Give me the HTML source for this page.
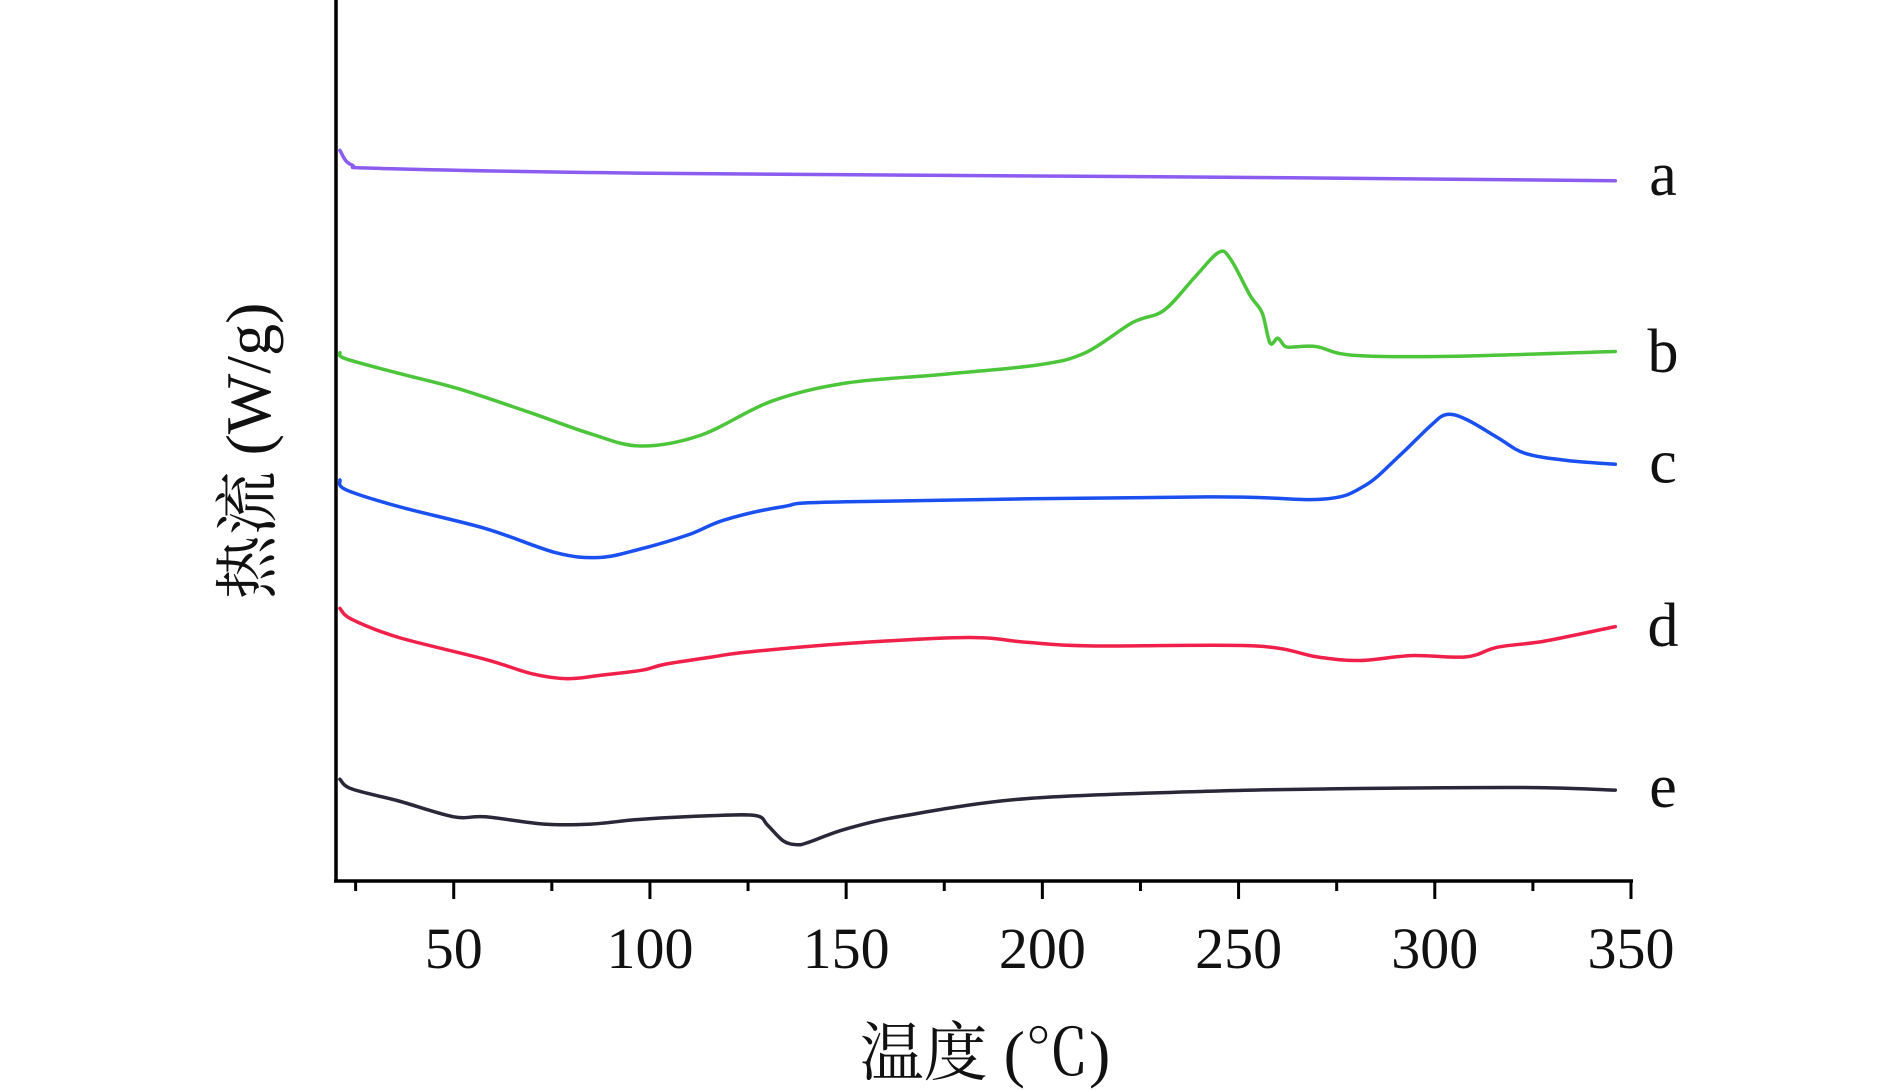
<!DOCTYPE html>
<html><head><meta charset="utf-8"><style>
html,body{margin:0;padding:0;background:#fff;}
svg{display:block;}
text{font-family:"Liberation Serif","Noto Serif CJK SC",serif;fill:#111;}
</style></head><body>
<svg id="chart" width="1890" height="1091" viewBox="0 0 1890 1091">
<g id="axes"></g>
<g id="series"></g>
<g id="labels"></g>
</svg>
<script>
const xTicksMajor = [50,100,150,200,250,300,350];
const xTicksMinor = [25,75,125,175,225,275,325];
const seriesNames = ['a','b','c','d','e'];
const seriesColors = ['#8a5cf0','#4cc53a','#1a4ff0','#f0204a','#2a2838'];
const aT = [21,24,33,104,242,346];
const aV = [603,591,588,584,581,578];
const bT = [21,22.5,36,51.5,70,85,97.6,113,131,150,174,199,211,223,231,239,245,248,253,256,258,260,262,265,270,279,303,346];
const bV = [436,431,419,406,386,369,359,368,396,411,418,426,436,461,471,499,519,513,483,469,444,448,441,441,441,434,433,437];
const cT = [21,22.5,36,58,76,87,97.6,110,119,134,150,242,271,282,291,299,303,308,316,323,334,346];
const cV = [331,323,309,291,271,267,274,286,298,309,313,317,315,326,351,376,385,381,366,353,347,344];
const dT = [21,24,36,58,70,79,88,98,104,116,125,150,181,196,212,254,270,281,294,308,316,328,346];
const dV = [225,216,201,183,171,167,170,174,179,185,189,196,201,197,194,194,185,182,186,185,193,198,210];
const eT = [21,24,36,50,58,73,85,98,116,127,130,134,137.5,140.5,150,165,196,242,273,303,328,346];
const eV = [84,76,66,53,53,47,47,51,54,54,46,33,30,32,43,54,68,74,76,77,77,75];
const labelV = [585,439,348,213,80];

const X0=336, X1=1631, T0=20, T1=350, YB=881, YS=1.2116;
function xs(t){return X0+(t-T0)*(X1-X0)/(T1-T0);}
function ys(v){return YB-v*YS;}
const NS='http://www.w3.org/2000/svg';
function mk(tag,attrs,parent){const e=document.createElementNS(NS,tag);for(const k in attrs)e.setAttribute(k,attrs[k]);parent.appendChild(e);return e;}
function smooth(pts){
  let d='M'+pts[0][0].toFixed(1)+','+pts[0][1].toFixed(1);
  for(let i=0;i<pts.length-1;i++){
    const p0=pts[Math.max(0,i-1)],p1=pts[i],p2=pts[i+1],p3=pts[Math.min(pts.length-1,i+2)];
    const c1x=p1[0]+(p2[0]-p0[0])/6,c1y=p1[1]+(p2[1]-p0[1])/6;
    const c2x=p2[0]-(p3[0]-p1[0])/6,c2y=p2[1]-(p3[1]-p1[1])/6;
    d+=' C'+c1x.toFixed(1)+','+c1y.toFixed(1)+' '+c2x.toFixed(1)+','+c2y.toFixed(1)+' '+p2[0].toFixed(1)+','+p2[1].toFixed(1);
  }
  return d;
}
const axes=document.getElementById('axes');
let el=mk('line',{x1:X0,y1:0,x2:X0,y2:YB,stroke:'#000','stroke-width':3.5},axes);


el=mk('line',{x1:X0-2,y1:YB,x2:X1+2,y2:YB,stroke:'#000','stroke-width':3.5},axes);


xTicksMajor.forEach(t=>{
  const tk=mk('line',{x1:xs(t),y1:YB,x2:xs(t),y2:YB+18,stroke:'#000','stroke-width':3},axes);
  
  
  const lb=mk('text',{x:xs(t),y:968,'text-anchor':'middle','font-size':58},axes);
  lb.textContent=t;
  
  
});
xTicksMinor.forEach(t=>{
  const tk=mk('line',{x1:xs(t),y1:YB,x2:xs(t),y2:YB+10,stroke:'#000','stroke-width':3},axes);
  
  
});
const xt=mk('text',{x:985,y:1075,'text-anchor':'middle','font-size':64},axes);
xt.textContent='温度 (℃)';


const yt=mk('text',{x:0,y:0,'text-anchor':'middle','font-size':64,transform:'translate(270,451) rotate(-90)'},axes);
yt.textContent='热流 (W/g)';



const allT=[aT,bT,cT,dT,eT], allV=[aV,bV,cV,dV,eV];
const sg=document.getElementById('series'), lg=document.getElementById('labels');
seriesNames.forEach((n,i)=>{
  const pts=allT[i].map((t,j)=>[xs(t),ys(allV[i][j])]);
  const p=mk('path',{d:smooth(pts),fill:'none',stroke:seriesColors[i],'stroke-width':3.5,'stroke-linejoin':'round','stroke-linecap':'round'},sg);
  
  
  const t=mk('text',{x:1663,y:ys(labelV[i])+23,'text-anchor':'middle','font-size':62},lg);
  t.textContent=n;
  
  
});
</script>
</body></html>
